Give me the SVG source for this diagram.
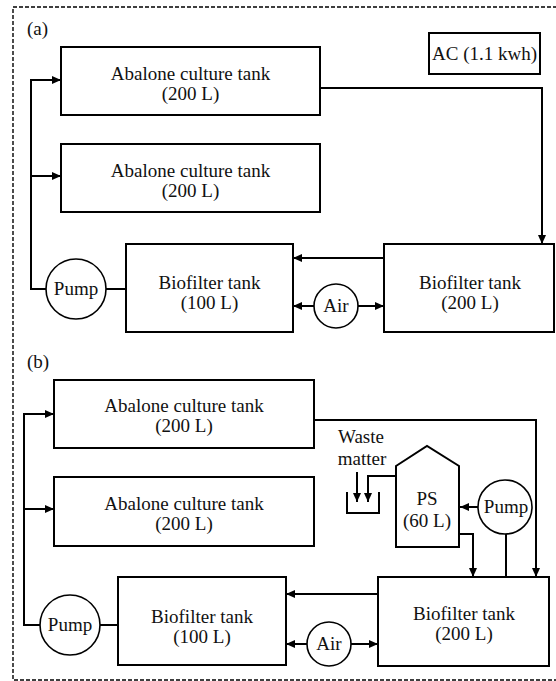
<svg xmlns="http://www.w3.org/2000/svg" width="556" height="681" viewBox="0 0 556 681">
<defs>
<marker id="ah" markerUnits="userSpaceOnUse" markerWidth="9" markerHeight="8" refX="9" refY="4" orient="auto">
<path d="M0,0 L9,4 L0,8 z" fill="#000"/>
</marker>
<style>
.box{fill:#fff;stroke:#000;stroke-width:2}
.c{fill:#fff;stroke:#000;stroke-width:1.6}
.t{font-family:"Liberation Serif","Times New Roman",serif;font-size:19px;fill:#111;text-anchor:middle}
.l{font-family:"Liberation Serif","Times New Roman",serif;font-size:19px;fill:#111}
.w{fill:none;stroke:#000;stroke-width:2}
.a{fill:none;stroke:#000;stroke-width:2;marker-end:url(#ah)}
</style>
</defs>
<rect x="0" y="0" width="556" height="681" fill="#fff"/>
<rect x="13" y="7" width="560" height="673" fill="none" stroke="#000" stroke-width="1.4" stroke-dasharray="4 2"/>
<text class="l" x="27" y="35">(a)</text>
<text class="l" x="27" y="368">(b)</text>

<g id="connectors">
<path class="w" d="M106 289 H126"/>
<path class="a" d="M46 289 H31 V80 H61"/>
<path class="a" d="M31 176 H61"/>
<path class="a" d="M320 88 H542 V244"/>
<path class="a" d="M384 258 H293"/>
<path class="a" d="M314 306 H293"/>
<path class="a" d="M358 306 H384"/>

<path class="w" d="M100 625 H118"/>
<path class="a" d="M40 625 H24 V414 H54"/>
<path class="a" d="M24 509 H54"/>
<path class="a" d="M314 420 H536 V577"/>
<path class="a" d="M378 594 H286"/>
<path class="a" d="M307 644 H286"/>
<path class="a" d="M351 644 H378"/>
<path class="a" d="M478 507 H460"/>
<path class="w" d="M506 534 V577"/>
<path class="a" d="M460 534 H473 V577"/>
<path class="a" d="M357 472 V502"/>
<path class="a" d="M396 476 H368 V502"/>
</g>

<g id="ac">
<rect class="box" x="429" y="33" width="111" height="41"/>
<text class="t" x="484.5" y="60">AC (1.1 kwh)</text>
</g>
<g id="tankA1">
<rect class="box" x="61" y="47" width="259" height="68"/>
<text class="t" x="190.5" y="80">Abalone culture tank</text>
<text class="t" x="190.5" y="100">(200 L)</text>
</g>
<g id="tankA2">
<rect class="box" x="61" y="144" width="259" height="68"/>
<text class="t" x="190.5" y="177">Abalone culture tank</text>
<text class="t" x="190.5" y="197">(200 L)</text>
</g>
<g id="bioA100">
<rect class="box" x="126" y="244" width="167" height="88"/>
<text class="t" x="209.5" y="289">Biofilter tank</text>
<text class="t" x="209.5" y="309">(100 L)</text>
</g>
<g id="bioA200">
<rect class="box" x="384" y="244" width="170" height="88"/>
<text class="t" x="470" y="289">Biofilter tank</text>
<text class="t" x="470" y="309">(200 L)</text>
</g>
<g id="pumpA">
<circle class="c" cx="76" cy="289" r="30"/>
<text class="t" x="76" y="295">Pump</text>
</g>
<g id="airA">
<circle class="c" cx="336" cy="306" r="22"/>
<text class="t" x="336" y="312">Air</text>
</g>

<g id="tankB1">
<rect class="box" x="54" y="380" width="260" height="68"/>
<text class="t" x="184" y="412">Abalone culture tank</text>
<text class="t" x="184" y="432">(200 L)</text>
</g>
<g id="tankB2">
<rect class="box" x="54" y="477" width="260" height="69"/>
<text class="t" x="184" y="510">Abalone culture tank</text>
<text class="t" x="184" y="530">(200 L)</text>
</g>
<g id="bioB100">
<rect class="box" x="118" y="577" width="168" height="88"/>
<text class="t" x="202" y="623">Biofilter tank</text>
<text class="t" x="202" y="643">(100 L)</text>
</g>
<g id="bioB200">
<rect class="box" x="378" y="577" width="171" height="89"/>
<text class="t" x="464" y="620">Biofilter tank</text>
<text class="t" x="464" y="640">(200 L)</text>
</g>
<g id="pumpB">
<circle class="c" cx="70" cy="625" r="30"/>
<text class="t" x="70" y="631">Pump</text>
</g>
<g id="airB">
<circle class="c" cx="329" cy="644" r="22"/>
<text class="t" x="329" y="650">Air</text>
</g>
<g id="ps">
<path class="box" d="M396 466 L427 446 L459 466 V547 H396 Z"/>
<text class="t" x="427" y="505">PS</text>
<text class="t" x="427" y="527">(60 L)</text>
</g>
<g id="pumpB2">
<circle class="c" cx="505" cy="507" r="27"/>
<text class="t" x="506" y="513">Pump</text>
</g>
<g id="waste">
<text class="t" x="361" y="443">Waste</text>
<text class="t" x="362" y="465">matter</text>
<path class="w" d="M347 492 V513 H379 V492"/>
</g>
</svg>
